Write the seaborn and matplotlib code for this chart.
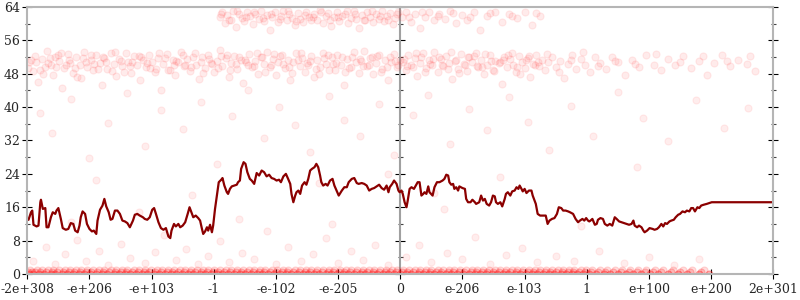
import matplotlib
matplotlib.use("Agg")
import matplotlib.pyplot as plt
import seaborn as sns
import pandas as pd
from matplotlib.ticker import FixedLocator

# ---------------- data ----------------
x_tick_pos = [-6, -5, -4, -3, -2, -1, 0, 1, 2, 3, 4, 5, 6]
x_tick_labels = ["-2e+308", "-e+206", "-e+103", "-1", "-e-102", "-e-205", "0",
                 "e-206", "e-103", "1", "e+100", "e+200", "2e+301"]
y_ticks = [0, 8, 16, 24, 32, 40, 48, 56, 64]
y_minor = [4, 12, 20, 28, 36, 44, 52, 60]

line_x = [
    -6.00, -5.98, -5.94, -5.92, -5.90, -5.85, -5.82, -5.79, -5.78, -5.75,
    -5.71, -5.69, -5.66, -5.62, -5.59, -5.55, -5.53, -5.50, -5.46, -5.43,
    -5.38, -5.34, -5.30, -5.26, -5.23, -5.19, -5.16, -5.14, -5.11, -5.07,
    -5.04, -5.00, -4.96, -4.93, -4.89, -4.87, -4.83, -4.79, -4.76, -4.73,
    -4.69, -4.66, -4.63, -4.59, -4.55, -4.51, -4.47, -4.43, -4.39, -4.35,
    -4.30, -4.27, -4.23, -4.19, -4.14, -4.11, -4.07, -4.03, -3.99, -3.96,
    -3.93, -3.89, -3.85, -3.81, -3.77, -3.73, -3.70, -3.68, -3.64, -3.61,
    -3.57, -3.54, -3.50, -3.46, -3.42, -3.39, -3.37, -3.33, -3.29, -3.25,
    -3.22, -3.19, -3.17, -3.14, -3.11, -3.09, -3.06, -3.03,
    -3.01, -2.98, -2.95, -2.92, -2.88, -2.86, -2.83, -2.79, -2.77, -2.74,
    -2.71, -2.67, -2.63, -2.61, -2.58, -2.56, -2.52, -2.49, -2.46, -2.42,
    -2.39, -2.35, -2.31, -2.27, -2.23, -2.19, -2.15, -2.11, -2.07, -2.03,
    -1.99, -1.95, -1.92, -1.88, -1.84, -1.81, -1.77, -1.75, -1.72, -1.69,
    -1.67, -1.64, -1.61, -1.58, -1.54, -1.51, -1.48, -1.45, -1.42, -1.38,
    -1.35, -1.32, -1.29, -1.27, -1.24, -1.20, -1.17, -1.13, -1.09, -1.06,
    -1.02, -0.99, -0.94, -0.90, -0.86, -0.83, -0.78, -0.74, -0.70, -0.67,
    -0.62, -0.58, -0.54, -0.50, -0.46, -0.42, -0.38, -0.34, -0.30, -0.26,
    -0.22, -0.19, -0.17, -0.13, -0.10, -0.06, -0.03,
    -0.01, 0.02, 0.04, 0.07, 0.10, 0.12, 0.15, 0.18, 0.22, 0.25,
    0.28, 0.31, 0.34, 0.37, 0.39, 0.42, 0.45, 0.47, 0.52, 0.55,
    0.59, 0.63, 0.68, 0.71, 0.74, 0.77, 0.79, 0.82, 0.85, 0.87,
    0.90, 0.93, 0.95, 1.00, 1.04, 1.06, 1.09, 1.13, 1.16, 1.20,
    1.22, 1.27, 1.30, 1.33, 1.36, 1.39, 1.43, 1.46, 1.49, 1.52,
    1.54, 1.57, 1.61, 1.64, 1.68, 1.70, 1.73, 1.77, 1.80, 1.84,
    1.87, 1.90, 1.92, 1.95, 1.97, 2.00, 2.03, 2.07, 2.11, 2.13,
    2.18, 2.21, 2.25, 2.29, 2.34, 2.37, 2.40, 2.44, 2.48, 2.52,
    2.55, 2.59, 2.62, 2.66, 2.70, 2.73, 2.78, 2.82, 2.86, 2.89,
    2.93, 2.96, 2.99, 3.02, 3.04,
    3.06, 3.09, 3.13, 3.16, 3.18, 3.22, 3.26, 3.29, 3.33, 3.37,
    3.41, 3.45, 3.48, 3.52, 3.56, 3.60, 3.64, 3.68, 3.72, 3.75,
    3.77, 3.81, 3.84, 3.88, 3.91, 3.93, 3.97, 4.01, 4.06, 4.09,
    4.13, 4.16, 4.20, 4.23, 4.26, 4.29, 4.33, 4.36, 4.40, 4.43,
    4.47, 4.50, 4.54, 4.58, 4.61, 4.65, 4.68, 4.71, 4.74, 4.78,
    4.81, 4.84, 4.88, 4.93, 4.97, 5.01, 6.00,
]
line_y = [
    13.0, 13.0, 14.8, 15.2, 11.8, 11.4, 11.6, 17.2, 17.8, 15.6,
    15.8, 11.2, 11.2, 13.6, 14.8, 14.4, 15.2, 15.8, 13.2, 11.0,
    10.6, 10.8, 12.2, 12.0, 10.4, 10.0, 11.6, 13.6, 15.0, 14.4,
    12.0, 10.8, 10.2, 10.4, 9.6, 12.8, 15.4, 16.4, 18.0, 16.2,
    14.8, 13.0, 13.2, 15.2, 15.2, 14.4, 12.8, 12.6, 12.2, 11.2,
    12.8, 14.2, 14.4, 14.0, 13.6, 13.2, 13.0, 13.6, 15.4, 15.8,
    14.4, 12.4, 11.0, 10.6, 11.0, 9.0, 8.6, 10.4, 12.0, 11.4,
    12.0, 11.2, 11.6, 12.4, 14.4, 16.0, 15.2, 13.6, 14.0, 13.4,
    12.8, 10.8, 9.6, 10.2, 11.2, 10.4, 11.8, 10.0,
    11.6, 15.6, 18.8, 22.0, 22.6, 23.0, 21.2, 19.6, 19.2, 20.4,
    21.0, 21.2, 21.4, 22.0, 22.4, 25.2, 26.8, 26.4, 24.4, 22.8,
    22.4, 21.6, 24.2, 23.6, 24.8, 24.4, 23.4, 23.8, 23.0, 22.8,
    22.4, 22.6, 22.0, 23.4, 24.0, 23.0, 21.6, 19.2, 17.2, 18.8,
    19.6, 20.0, 19.2, 21.2, 22.0, 21.4, 22.8, 24.8, 25.2, 25.6,
    26.4, 25.6, 23.6, 22.0, 21.2, 21.6, 21.2, 22.4, 22.8, 21.2,
    19.8, 18.8, 20.0, 20.8, 20.8, 22.0, 22.8, 23.0, 21.8, 21.6,
    21.8, 21.6, 21.2, 20.0, 20.4, 20.6, 21.0, 21.4, 20.6, 20.2,
    21.2, 19.6, 20.8, 21.6, 22.4, 21.6, 20.0,
    19.6, 20.0, 19.2, 17.2, 16.0, 17.6, 20.4, 20.8, 20.4, 21.2,
    22.0, 22.0, 18.8, 19.2, 19.6, 19.2, 21.0, 19.6, 18.8, 20.8,
    22.0, 22.0, 22.4, 22.8, 23.8, 23.6, 22.0, 21.4, 21.6, 20.4,
    20.8, 20.0, 21.0, 20.6, 20.4, 18.0, 17.2, 17.2, 17.8, 17.2,
    16.8, 17.2, 18.8, 17.6, 18.0, 16.8, 16.4, 17.2, 18.8, 18.6,
    17.2, 16.8, 17.2, 16.2, 18.0, 19.2, 19.6, 18.8, 19.8, 20.0,
    20.8, 20.4, 21.2, 20.4, 19.8, 20.4, 19.4, 20.0, 20.0, 18.8,
    16.8, 14.4, 14.0, 14.0, 14.0, 12.0, 12.8, 13.2, 13.4, 14.4,
    16.0, 15.8, 15.2, 15.2, 15.0, 14.8, 14.4, 13.2, 12.4, 12.8,
    13.2, 12.8, 13.4, 12.8, 12.6,
    12.8, 13.2, 11.8, 12.0, 13.0, 13.4, 13.2, 12.0, 11.6, 12.0,
    11.6, 13.6, 13.2, 12.6, 12.4, 12.2, 12.0, 11.8, 12.0, 12.8,
    11.6, 11.2, 11.6, 11.2, 10.4, 10.0, 10.4, 11.0, 10.8, 10.6,
    10.8, 11.2, 12.0, 11.4, 12.2, 12.0, 12.6, 12.8, 13.0, 13.6,
    14.2, 14.4, 15.0, 14.8, 15.2, 15.0, 15.8, 15.8, 15.0, 16.0,
    15.8, 16.4, 16.6, 16.8, 17.0, 17.2, 17.2,
]

# scatter cloud around 48-53 bits
mid_band_pts = [
    (-5.97, 50.8), (-5.91, 48.6), (-5.88, 52.3), (-5.82, 46.1), (-5.77, 51.5), (-5.71, 49.7), (-5.69, 53.4),
    (-5.62, 50.2), (-5.58, 47.8), (-5.55, 52.0), (-5.49, 51.1), (-5.44, 44.6), (-5.41, 49.3), (-5.35, 52.7),
    (-5.31, 50.5), (-5.27, 48.2), (-5.22, 51.9), (-5.16, 50.1), (-5.13, 46.9), (-5.08, 53.1), (-5.04, 49.5),
    (-4.98, 51.3), (-4.95, 48.9), (-4.89, 52.4), (-4.83, 50.6), (-4.80, 45.4), (-4.76, 51.8), (-4.71, 49.2),
    (-4.66, 52.9), (-4.61, 50.3), (-4.57, 47.4), (-4.52, 51.6), (-4.47, 49.9), (-4.42, 53.0), (-4.38, 50.7),
    (-4.33, 48.1), (-4.28, 52.2), (-4.23, 50.0), (-4.19, 46.5), (-4.14, 51.4), (-4.09, 49.6), (-4.05, 52.6),
    (-3.99, 50.9), (-3.95, 48.4), (-3.90, 51.7), (-3.85, 44.1), (-3.81, 50.4), (-3.76, 52.8), (-3.71, 49.0),
    (-3.66, 51.2), (-3.62, 47.6), (-3.57, 50.8), (-3.52, 53.3), (-3.48, 49.8), (-3.43, 51.5), (-3.38, 48.7),
    (-3.33, 52.1), (-3.29, 50.2), (-3.24, 46.8), (-3.19, 51.9), (-3.14, 49.4), (-3.10, 52.5), (-3.05, 50.6),
    (-3.00, 48.3), (-2.95, 51.1), (-2.90, 53.6), (-2.86, 49.9), (-2.81, 51.7), (-2.76, 47.2), (-2.72, 50.5),
    (-2.67, 52.3), (-2.62, 49.1), (-2.57, 51.4), (-2.53, 45.9), (-2.48, 50.8), (-2.43, 52.7), (-2.38, 49.5),
    (-2.34, 51.0), (-2.29, 48.0), (-2.24, 52.0), (-2.19, 50.3), (-2.15, 53.2), (-2.10, 49.7), (-2.05, 51.6),
    (-2.00, 47.7), (-1.96, 50.9), (-1.91, 52.4), (-1.86, 49.3), (-1.81, 51.3), (-1.77, 46.4), (-1.72, 50.7),
    (-1.67, 52.9), (-1.62, 49.8), (-1.58, 51.8), (-1.53, 48.5), (-1.48, 50.1), (-1.43, 52.2), (-1.39, 47.1),
    (-1.34, 51.2), (-1.29, 49.6), (-1.24, 53.0), (-1.20, 50.4), (-1.15, 48.8), (-1.10, 51.9), (-1.05, 49.0),
    (-1.01, 52.6), (-0.96, 50.2), (-0.91, 45.2), (-0.86, 51.5), (-0.82, 49.4), (-0.77, 52.1), (-0.72, 50.8),
    (-0.67, 48.2), (-0.63, 51.1), (-0.58, 53.4), (-0.53, 49.9), (-0.48, 51.7), (-0.44, 47.9), (-0.39, 50.6),
    (-0.34, 52.5), (-0.29, 49.2), (-0.25, 51.3), (-0.20, 46.6), (-0.15, 50.9), (-0.10, 52.8), (-0.06, 49.7),
    (-0.01, 51.4),
    (-5.94, 51.2), (-5.79, 49.0), (-5.66, 50.6), (-5.51, 52.5), (-5.38, 50.0), (-5.24, 49.4), (-5.11, 51.7),
    (-4.93, 50.3), (-4.78, 52.0), (-4.63, 48.6), (-4.49, 51.0), (-4.35, 49.9), (-4.21, 52.3), (-4.07, 50.5),
    (-3.93, 49.1), (-3.79, 51.8), (-3.64, 50.2), (-3.50, 52.4), (-3.36, 49.6), (-3.21, 50.9), (-3.07, 51.6),
    (-2.93, 49.3), (-2.79, 52.6), (-2.64, 50.4), (-2.50, 51.2), (-2.36, 49.8), (-2.22, 51.9), (-2.08, 50.1),
    (-1.93, 52.2), (-1.79, 49.5), (-1.65, 51.4), (-1.50, 50.6), (-1.36, 49.2), (-1.22, 51.8), (-1.08, 50.3),
    (-0.94, 52.0), (-0.79, 49.7), (-0.65, 51.5), (-0.51, 50.2), (-0.37, 52.3), (-0.22, 49.6), (-0.08, 51.0),
    (-5.99, 49.4), (-5.86, 50.9), (-5.74, 48.0), (-5.64, 51.8), (-5.53, 49.6), (-5.46, 53.0), (-5.33, 51.4),
    (-5.20, 47.3), (-5.06, 50.7), (-4.97, 52.6), (-4.86, 49.1), (-4.73, 50.9), (-4.59, 53.2), (-4.45, 48.5),
    (-4.31, 50.8), (-4.17, 51.9), (-4.02, 49.3), (-3.88, 52.9), (-3.74, 48.9), (-3.60, 51.0), (-3.46, 50.0),
    (-3.31, 53.0), (-3.17, 48.1), (-3.03, 50.3), (-2.88, 52.2), (-2.74, 48.8), (-2.60, 51.9), (-2.45, 50.0),
    (-2.31, 53.0), (-2.17, 48.4), (-2.03, 52.8), (-1.89, 50.4), (-1.74, 48.2), (-1.60, 52.9), (-1.46, 51.0),
    (-1.31, 48.0), (-1.17, 52.4), (-1.03, 50.6), (-0.89, 48.3), (-0.74, 53.1), (-0.60, 49.8), (-0.46, 51.9),
    (-0.31, 48.4), (-0.17, 52.0), (-0.04, 50.1),
    (0.04, 50.7), (0.09, 48.9), (0.13, 52.4), (0.18, 50.1), (0.23, 51.8), (0.27, 47.5), (0.32, 50.6),
    (0.37, 52.9), (0.41, 49.4), (0.46, 51.2), (0.51, 50.0), (0.55, 53.1), (0.60, 48.3), (0.65, 51.6),
    (0.69, 49.8), (0.74, 52.2), (0.79, 50.5), (0.83, 46.8), (0.88, 51.0), (0.93, 49.2), (0.97, 52.7),
    (1.02, 50.3), (1.07, 48.6), (1.11, 51.9), (1.16, 50.8), (1.21, 53.0), (1.25, 49.5), (1.30, 51.4),
    (1.35, 47.9), (1.39, 50.2), (1.44, 52.5), (1.49, 49.0), (1.53, 51.1), (1.58, 50.6), (1.63, 45.6),
    (1.67, 52.0), (1.72, 49.7), (1.77, 51.5), (1.81, 50.0), (1.86, 48.4), (1.91, 52.3), (1.95, 50.9),
    (2.00, 49.3), (2.05, 51.7), (2.09, 47.3), (2.14, 50.4), (2.19, 52.6), (2.23, 49.9), (2.28, 51.3),
    (2.33, 48.8), (2.38, 50.7), (2.44, 52.1), (2.50, 49.6), (2.57, 51.0), (2.63, 47.0), (2.69, 50.3),
    (2.76, 52.4), (2.83, 49.2), (2.90, 51.6), (2.97, 50.1), (3.05, 48.5), (3.14, 51.9), (3.22, 50.5),
    (3.31, 49.1), (3.40, 52.0), (3.50, 50.8), (3.61, 47.8), (3.72, 51.3), (3.84, 49.7), (3.96, 52.5),
    (4.08, 50.2), (4.19, 48.9), (4.30, 51.5), (4.42, 50.0), (4.55, 52.2), (4.68, 49.4), (4.80, 51.1),
    (4.93, 47.6), (5.05, 50.6), (5.18, 52.6), (5.30, 49.8), (5.44, 51.2), (5.57, 50.3), (5.70, 48.7),
    (0.06, 51.5), (0.20, 49.6), (0.34, 51.9), (0.48, 50.4), (0.62, 52.0), (0.76, 49.2), (0.90, 51.3),
    (1.04, 50.0), (1.18, 52.3), (1.32, 49.7), (1.46, 51.0), (1.60, 50.7), (1.74, 52.4), (1.88, 49.5),
    (2.02, 51.2), (2.16, 50.2),
    (0.11, 49.9), (0.25, 53.0), (0.39, 48.5), (0.53, 51.6), (0.67, 50.2), (0.81, 53.3), (0.95, 48.1),
    (1.09, 52.0), (1.23, 49.9), (1.37, 52.8), (1.51, 48.6), (1.65, 51.2), (1.79, 53.0), (1.93, 48.0),
    (2.07, 52.2), (2.21, 50.8), (2.36, 52.8), (2.55, 48.4), (2.74, 51.3), (2.94, 53.1), (3.18, 49.8),
    (3.45, 51.0), (3.78, 50.4), (4.12, 52.8), (4.50, 50.9), (4.87, 52.2), (5.25, 51.0), (5.63, 52.3),
]

# scatter cloud around 60-63 bits
top_band_pts = [
    (-2.90, 61.5), (-2.86, 62.8), (-2.82, 60.2), (-2.78, 62.1), (-2.73, 61.0), (-2.69, 63.0), (-2.64, 59.1),
    (-2.60, 62.4), (-2.55, 61.3), (-2.51, 60.6), (-2.46, 62.9), (-2.42, 61.8), (-2.37, 60.0), (-2.33, 62.3),
    (-2.28, 61.1), (-2.24, 63.1), (-2.19, 60.7), (-2.15, 62.0), (-2.10, 58.4), (-2.06, 61.6), (-2.01, 62.7),
    (-1.97, 60.4), (-1.92, 61.9), (-1.88, 63.0), (-1.83, 60.9), (-1.79, 62.2), (-1.74, 61.4), (-1.70, 59.7),
    (-1.65, 62.6), (-1.61, 61.2), (-1.56, 60.3), (-1.52, 62.8), (-1.47, 61.7), (-1.43, 60.8), (-1.38, 62.4),
    (-1.34, 61.0), (-1.29, 63.2), (-1.25, 60.1), (-1.20, 61.8), (-1.16, 62.5), (-1.11, 59.4), (-1.07, 61.5),
    (-1.02, 62.9), (-0.98, 60.6), (-0.93, 61.9), (-0.89, 62.3), (-0.84, 60.2), (-0.80, 61.4), (-0.75, 63.0),
    (-0.71, 61.1), (-0.66, 58.9), (-0.62, 62.1), (-0.57, 60.9), (-0.53, 62.7), (-0.48, 61.6), (-0.44, 60.4),
    (-0.39, 62.4), (-0.35, 61.2), (-0.30, 63.1), (-0.26, 60.7), (-0.21, 61.9), (-0.17, 62.6), (-0.12, 59.9),
    (-0.08, 61.3), (-0.03, 62.8), (0.03, 61.5), (0.10, 62.9), (0.17, 60.4), (0.24, 62.2), (0.31, 59.0),
    (0.39, 61.7), (0.47, 62.8), (0.55, 60.8), (0.63, 62.4), (0.72, 61.2), (0.80, 63.0), (0.90, 60.1),
    (0.99, 62.0), (1.08, 61.0), (1.18, 62.7), (1.29, 58.6), (1.40, 61.8), (1.52, 62.9), (1.63, 60.5),
    (1.75, 62.3), (1.88, 61.4), (2.00, 62.8), (2.12, 59.7), (2.25, 61.9),
    (-2.88, 62.2), (-2.76, 60.9), (-2.62, 63.0), (-2.48, 61.6), (-2.35, 62.7), (-2.21, 61.3), (-2.08, 62.4),
    (-1.94, 61.2), (-1.81, 63.0), (-1.67, 60.6), (-1.54, 62.1), (-1.40, 61.5), (-1.27, 62.7), (-1.13, 60.9),
    (-1.00, 61.7), (-0.86, 63.1), (-0.73, 62.2), (-0.59, 61.0), (-0.46, 63.0), (-0.32, 61.8), (-0.19, 60.9),
    (-0.05, 62.4), (0.14, 61.6), (0.35, 62.7), (0.60, 61.9), (0.85, 62.6), (1.12, 61.6), (1.45, 62.5),
    (1.80, 61.9), (2.18, 62.5),
]

# dense rows at 0, 0.5 and 1 bits
zero_row_x = [
    -5.98, -5.90, -5.81, -5.73, -5.62, -5.55, -5.44, -5.36, -5.27, -5.17, -5.09, -4.99, -4.90, -4.80,
    -4.72, -4.61, -4.53, -4.43, -4.34, -4.25, -4.15, -4.07, -3.96, -3.88, -3.79, -3.69, -3.60, -3.51,
    -3.41, -3.33, -3.22, -3.14, -3.05, -2.95, -2.86, -2.77, -2.68, -2.58, -2.49, -2.40, -2.30, -2.22,
    -2.12, -2.03, -1.94, -1.84, -1.76, -1.66, -1.57, -1.48, -1.38, -1.30, -1.20, -1.11, -1.02, -0.92,
    -0.84, -0.74, -0.65, -0.56, -0.46, -0.38, -0.28, -0.19, -0.10, 0.00, 0.09, 0.18, 0.28, 0.36,
    0.46, 0.55, 0.64, 0.74, 0.82, 0.92, 1.01, 1.10, 1.20, 1.28, 1.38, 1.47, 1.56, 1.66, 1.74, 1.84,
    1.93, 2.02, 2.12, 2.20, 2.30, 2.39, 2.48, 2.58, 2.66, 2.76, 2.85, 2.94, 3.04, 3.15, 3.27, 3.38,
    3.50, 3.63, 3.75, 3.88, 4.02, 4.15, 4.30, 4.46, 4.62, 4.80, 4.97,
]
half_row_x = [
    -5.99, -5.93, -5.87, -5.80, -5.70, -5.60, -5.52, -5.42, -5.33, -5.25, -5.15, -5.06, -4.97, -4.88,
    -4.78, -4.69, -4.59, -4.50, -4.41, -4.32, -4.22, -4.13, -4.04, -3.94, -3.85, -3.76, -3.67, -3.57,
    -3.48, -3.39, -3.30, -3.20, -3.11, -3.02, -2.93, -2.84, -2.74, -2.65, -2.56, -2.46, -2.37, -2.28,
    -2.19, -2.09, -2.00, -1.91, -1.82, -1.72, -1.63, -1.54, -1.45, -1.36, -1.26, -1.17, -1.08, -0.99,
    -0.90, -0.81, -0.71, -0.62, -0.53, -0.44, -0.35, -0.25, -0.16, -0.07, 0.02, 0.11, 0.21, 0.30,
    0.39, 0.48, 0.57, 0.66, 0.76, 0.85, 0.94, 1.03, 1.13, 1.22, 1.31, 1.40, 1.49, 1.58, 1.68, 1.77,
    1.86, 1.95, 2.05, 2.14, 2.23, 2.32, 2.41, 2.51, 2.60, 2.69, 2.78, 2.88, 2.97, 3.07, 3.18, 3.30,
    3.42, 3.55, 3.68, 3.80, 3.93, 4.06, 4.20, 4.35, 4.50, 4.66, 4.84,
]
one_row_x = [
    -5.95, -5.85, -5.77, -5.67, -5.58, -5.49, -5.40, -5.31, -5.22, -5.13, -5.04, -4.94, -4.85, -4.76,
    -4.66, -4.57, -4.48, -4.39, -4.29, -4.20, -4.11, -4.01, -3.92, -3.83, -3.74, -3.64, -3.55, -3.46,
    -3.37, -3.27, -3.18, -3.09, -3.00, -2.90, -2.81, -2.72, -2.63, -2.53, -2.44, -2.35, -2.26, -2.17,
    -2.07, -1.98, -1.89, -1.80, -1.70, -1.61, -1.52, -1.43, -1.34, -1.24, -1.15, -1.06, -0.97, -0.88,
    -0.79, -0.69, -0.60, -0.51, -0.42, -0.33, -0.23, -0.14, -0.05, 0.05, 0.14, 0.23, 0.32, 0.41,
    0.50, 0.60, 0.69, 0.78, 0.87, 0.96, 1.06, 1.15, 1.24, 1.33, 1.42, 1.52, 1.61, 1.70, 1.79, 1.88,
    1.98, 2.07, 2.16, 2.25, 2.34, 2.44, 2.53, 2.62, 2.71, 2.80, 2.90, 2.99, 3.09, 3.21, 3.33, 3.45,
    3.57, 3.70, 3.82, 3.95, 4.09, 4.23, 4.38, 4.54, 4.70, 4.88,
]

# sparse points elsewhere
sparse_pts = [
    (-5.90, 3.2), (-5.70, 6.5), (-5.55, 2.4), (-5.40, 4.8), (-5.20, 8.1), (-5.05, 3.0), (-4.85, 5.6),
    (-4.70, 2.2), (-4.50, 7.3), (-4.35, 3.9), (-4.10, 2.7), (-3.95, 5.2), (-3.80, 9.4), (-3.60, 3.4),
    (-3.45, 6.1), (-3.25, 2.5), (-3.10, 4.4), (-2.90, 7.8), (-2.75, 2.9), (-2.55, 5.0), (-2.35, 3.6),
    (-2.15, 10.2), (-2.00, 2.3), (-1.80, 6.4), (-1.60, 3.1), (-1.40, 4.7), (-1.20, 8.6), (-1.00, 2.6),
    (-0.80, 5.5), (-0.60, 3.3), (-0.40, 7.0), (-0.20, 2.1), (0.10, 4.1), (0.30, 6.9), (0.50, 2.8),
    (0.75, 5.1), (1.00, 3.5), (1.20, 8.8), (1.45, 2.4), (1.70, 4.6), (1.95, 6.2), (2.20, 2.9),
    (2.50, 4.3), (2.80, 3.1), (3.20, 5.4), (3.60, 2.6), (4.00, 4.0), (4.40, 2.2), (4.80, 3.6),
    (-5.30, 12.4), (-4.20, 14.8), (-2.60, 13.1), (-1.10, 12.0), (0.70, 15.6), (2.90, 11.6),
    (-3.35, 18.9), (0.55, 19.5), (-0.20, 24.0),
    (-5.80, 38.5), (-5.60, 33.7), (-5.30, 42.0), (-5.00, 27.9), (-4.70, 36.2), (-4.40, 43.5),
    (-4.10, 30.6), (-3.85, 39.4), (-3.50, 34.8), (-3.20, 41.3), (-2.95, 26.4), (-2.70, 37.9),
    (-2.45, 44.2), (-2.20, 32.5), (-1.95, 40.1), (-1.70, 35.6), (-1.45, 29.3), (-1.15, 42.7),
    (-0.90, 37.0), (-0.65, 33.1), (-0.35, 40.8), (-0.10, 28.5), (0.20, 38.0), (0.45, 43.0),
    (0.80, 31.2), (1.10, 39.6), (1.40, 34.4), (1.75, 42.4), (2.05, 36.5), (2.40, 29.8), (2.75, 40.3),
    (3.10, 33.0), (3.50, 43.7), (3.90, 37.4), (4.30, 31.9), (4.75, 41.8), (5.20, 35.0), (5.60, 39.9),
    (-4.90, 22.5), (-1.30, 21.8), (1.60, 23.2), (3.80, 25.6),
]

# ---------------- figure ----------------
sns.set_style("white")
plt.rcParams["font.family"] = ["DejaVu Serif"]

fig = plt.figure(figsize=(8, 3), dpi=100)
ax = fig.add_axes([0.0341, 0.0867, 0.9325, 0.89])

def pts_df(pts):
    return pd.DataFrame(pts, columns=["x", "y"])

def row_df(xs, yval):
    return pd.DataFrame({"x": xs, "y": [yval] * len(xs)})

dot_kw = dict(color="#ff2020", edgecolor="#ff2020", s=26, linewidth=0.8,
              legend=False, ax=ax, zorder=1)
sns.scatterplot(data=pts_df(sparse_pts), x="x", y="y", alpha=0.08, **dot_kw)
sns.scatterplot(data=pts_df(mid_band_pts), x="x", y="y", alpha=0.085, **dot_kw)
sns.scatterplot(data=pts_df(top_band_pts), x="x", y="y", alpha=0.085, **dot_kw)
sns.scatterplot(data=row_df(zero_row_x, 0.0), x="x", y="y", alpha=0.35, **dot_kw)
sns.scatterplot(data=row_df(half_row_x, 0.5), x="x", y="y", alpha=0.22, **dot_kw)
sns.scatterplot(data=row_df(one_row_x, 1.0), x="x", y="y", alpha=0.15, **dot_kw)

line_df = pd.DataFrame({"x": line_x, "y": line_y})
sns.lineplot(data=line_df, x="x", y="y", sort=False, estimator=None,
             color="#8b0000", linewidth=1.6, ax=ax, zorder=3)

ax.set_xlim(-6, 6)
ax.set_ylim(0, 64)
ax.set_xlabel("")
ax.set_ylabel("")
ax.set_xticks(x_tick_pos)
ax.set_xticklabels(x_tick_labels)
ax.set_yticks(y_ticks)
ax.yaxis.set_minor_locator(FixedLocator(y_minor))

for s in ax.spines.values():
    s.set_visible(True)
    s.set_color("#b5b5b5")
    s.set_linewidth(1.5)
    s.set_zorder(4)

ax.tick_params(axis="y", which="major", direction="inout", length=7.5, width=0.8,
               color="black", left=True, right=True, labelleft=True, labelright=False,
               labelsize=9, pad=1.5)
ax.tick_params(axis="y", which="minor", direction="inout", length=3.6, width=0.8,
               color="#444444", left=True, right=True)
ax.tick_params(axis="x", which="major", direction="inout", length=6.5, width=0.8,
               color="black", bottom=True, labelsize=9, pad=3)

# middle vertical axis at x = 0
sec = ax.secondary_yaxis(0.5)
sec.set_yticks(y_ticks)
sec.yaxis.set_minor_locator(FixedLocator(y_minor))
sec.tick_params(axis="y", which="major", direction="inout", length=7, width=0.8,
                color="black", labelleft=False, labelright=False)
sec.tick_params(axis="y", which="minor", direction="inout", length=3.6, width=0.8,
                color="#444444")
for s in sec.spines.values():
    s.set_color("#a0a0a0")
    s.set_linewidth(1.5)

fig.savefig("out.png", dpi=100)
